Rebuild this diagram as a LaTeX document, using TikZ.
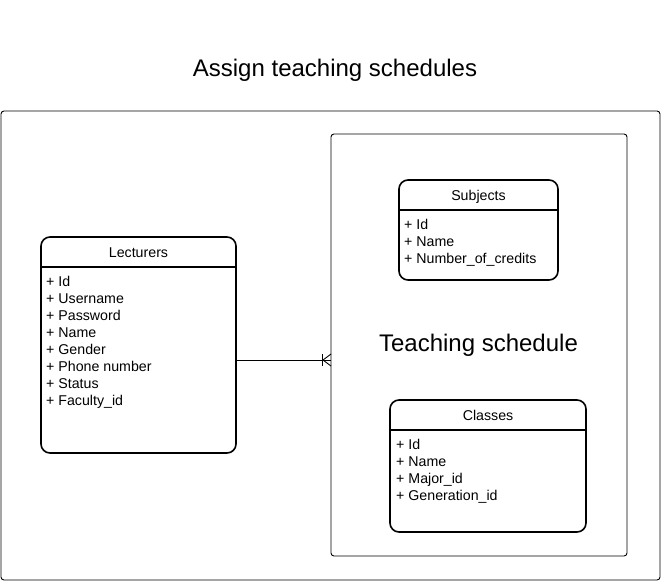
\documentclass[tikz,border=0pt]{standalone}
\usepackage{fontspec}
\setmainfont{Liberation Sans}
\begin{document}
\begin{tikzpicture}[x=1pt,y=-1pt,
  frame/.style={draw=black,line width=0.9pt,rounded corners=3pt},
  entity/.style={draw=black,line width=1.6pt,rounded corners=9pt},
  hdr/.style={font=\fontsize{14.2}{16}\selectfont,anchor=center,inner sep=0pt,text height=10.2pt,text depth=3pt,yshift=-0.5pt},
  attr/.style={font=\fontsize{14.2}{16}\selectfont,anchor=west,inner sep=0pt,text height=10.2pt,text depth=3pt,yshift=-0.5pt},
  big/.style={font=\fontsize{24}{28}\selectfont,anchor=center,inner sep=0pt,text height=17.3pt,text depth=5pt,yshift=-0.8pt}]
\useasboundingbox (0,0) rectangle (661,581);
\fill[white] (0,0) rectangle (661,581);
% title
\node[big] (title) at (335,70) {Assign teaching schedules};
% outer frame
\draw[frame] (1,111) rectangle (660,580);
% container
\draw[frame] (331,134) rectangle (627,556);
\coordinate (cont) at (331,360);
\node[big] (tslabel) at (478.5,345) {Teaching schedule};
% Lecturers
\node[draw=none,minimum width=195pt,minimum height=216pt,inner sep=0pt] (lect) at (138.5,345) {};
\draw[entity] (41,237) rectangle (236,453);
\draw[line width=1.6pt] (41,267) -- (236,267);
\node[hdr] (lecth) at (138.5,253) {Lecturers};
\node[attr] (l1) at (46,282) {+ Id};
\node[attr] (l2) at (46,299) {+ Username};
\node[attr] (l3) at (46,316) {+ Password};
\node[attr] (l4) at (46,333) {+ Name};
\node[attr] (l5) at (46,350) {+ Gender};
\node[attr] (l6) at (46,367) {+ Phone number};
\node[attr] (l7) at (46,384) {+ Status};
\node[attr] (l8) at (46,401) {+ Faculty\_id};
% Subjects
\draw[entity] (399,180) rectangle (558,280);
\draw[line width=1.6pt] (399,210) -- (558,210);
\node[hdr] (subh) at (478.5,196) {Subjects};
\node[attr] (s1) at (404,225) {+ Id};
\node[attr] (s2) at (404,242) {+ Name};
\node[attr] (s3) at (404,259) {+ Number\_of\_credits};
% Classes
\draw[entity] (390,400) rectangle (586,532);
\draw[line width=1.6pt] (390,430) -- (586,430);
\node[hdr] (clah) at (488,416) {Classes};
\node[attr] (c1) at (396,445) {+ Id};
\node[attr] (c2) at (396,462) {+ Name};
\node[attr] (c3) at (396,479) {+ Major\_id};
\node[attr] (c4) at (396,496) {+ Generation\_id};
% connector
\draw[line width=0.9pt] (lect.east |- cont) -- (cont);
\draw[line width=0.9pt] (322,354) -- (322,366);
\draw[line width=0.9pt] (331,354) -- (323,360) -- (331,366);
\end{tikzpicture}
\end{document}
